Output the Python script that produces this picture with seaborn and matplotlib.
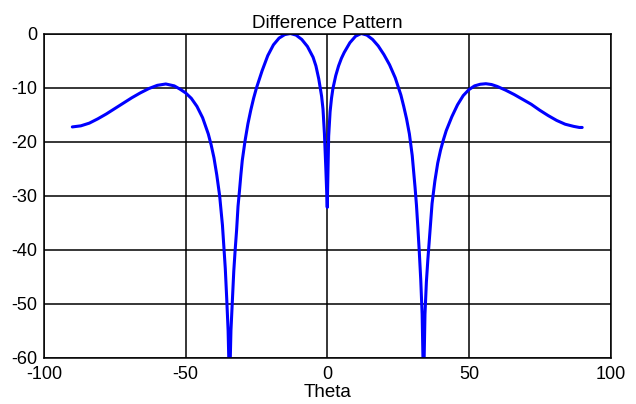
import matplotlib
matplotlib.use("Agg")
import matplotlib.pyplot as plt
import seaborn as sns
import pandas as pd

theta = [
    -90, -87, -84, -81, -78, -75, -72, -69, -66, -63, -60, -57, -54, -52, -50,
    -48, -46, -44, -42, -41, -40, -39, -38, -37, -36.5, -36, -35.5, -35, -34.5,
    -34, -33.5, -33, -32.5, -32, -31.5, -31, -30.5, -30, -29, -28, -27, -26,
    -25, -23, -21, -19, -17, -15, -13, -11, -9, -7, -5, -4, -3, -2, -1.5, -1,
    -0.5, 0,
    0.5, 1, 1.5, 2, 3, 4, 5, 6, 8, 10, 12, 14, 16, 18, 20, 22, 24, 26, 27, 28,
    29, 30, 31, 31.5, 32, 32.5, 33, 33.5, 34, 34.5, 35, 35.5, 36, 36.5, 37, 38,
    39, 40, 41, 42, 44, 46, 48, 50, 52, 54, 56, 58, 60, 63, 66, 69, 72, 75, 78,
    81, 84, 87, 89, 90,
]
gain_db = [
    -17.3, -17.1, -16.6, -15.8, -14.9, -13.9, -12.9, -11.9, -11.0, -10.2, -9.6,
    -9.35, -9.7, -10.3, -11.0, -12.0, -13.5, -15.6, -18.6, -20.6, -23.0, -26.2,
    -30.0, -35.5, -39.5, -43.5, -49.0, -55.0, -66.0, -55.0, -49.5, -44.0, -40.0,
    -36.4, -32.0, -29.2, -26.2, -23.5, -19.8, -16.7, -14.2, -12.0, -10.1, -6.9,
    -4.1, -2.1, -0.85, -0.2, 0.0, -0.3, -1.1, -2.4, -4.4, -6.0, -8.4, -11.6,
    -14.0, -18.5, -25.0, -32.2,
    -19.0, -14.5, -12.0, -10.2, -7.8, -6.0, -4.6, -3.5, -1.7, -0.5, 0.0, -0.3,
    -1.1, -2.3, -3.9, -5.8, -8.2, -11.4, -13.5, -15.8, -18.6, -22.6, -28.5,
    -31.8, -36.0, -40.5, -45.5, -52.0, -66.0, -52.0, -46.0, -42.0, -38.5, -35.0,
    -31.5, -27.3, -24.0, -21.6, -19.7, -18.0, -15.4, -13.2, -11.5, -10.4, -9.7,
    -9.4, -9.3, -9.45, -9.8, -10.5, -11.3, -12.2, -13.1, -14.2, -15.2, -16.1,
    -16.8, -17.2, -17.4, -17.4,
]
x_ticks = [-100, -50, 0, 50, 100]
y_ticks = [0, -10, -20, -30, -40, -50, -60]
title = "Difference Pattern"
x_label = "Theta"

sns.set_style("white")
plt.rcParams["font.family"] = ["Liberation Sans", "DejaVu Sans"]
plt.rcParams["axes.unicode_minus"] = False
plt.rcParams["text.color"] = "black"
plt.rcParams["axes.labelcolor"] = "black"

df = pd.DataFrame({"theta": theta, "gain": gain_db})

fig = plt.figure(figsize=(6.36, 4.04), dpi=100)
ax = fig.add_axes([44 / 636, 1 - 357.5 / 404, (610.5 - 44) / 636, (357.5 - 33.5) / 404])

sns.lineplot(data=df, x="theta", y="gain", sort=False, color="#0000ff",
             linewidth=2.2, ax=ax, estimator=None)

ax.set_xlim(-100, 100)
ax.set_ylim(-60, 0)
ax.set_xticks(x_ticks)
ax.set_yticks(y_ticks)
ax.set_xticklabels([str(v) for v in x_ticks])
ax.set_yticklabels([str(v) for v in y_ticks])
ax.tick_params(axis="both", length=0, labelsize=13, colors="black")
ax.tick_params(axis="x", pad=6)
ax.tick_params(axis="y", pad=5)
ax.grid(True, color="black", linewidth=1.1)
ax.set_axisbelow(True)
for s in ax.spines.values():
    s.set_visible(True)
    s.set_color("black")
    s.set_linewidth(1.1)

ax.set_title(title, fontsize=13.5, pad=4, color="black")
ax.set_xlabel(x_label, fontsize=13.5, labelpad=1, color="black")
ax.set_ylabel("")

fig.savefig("out.png", dpi=100, facecolor="white")
